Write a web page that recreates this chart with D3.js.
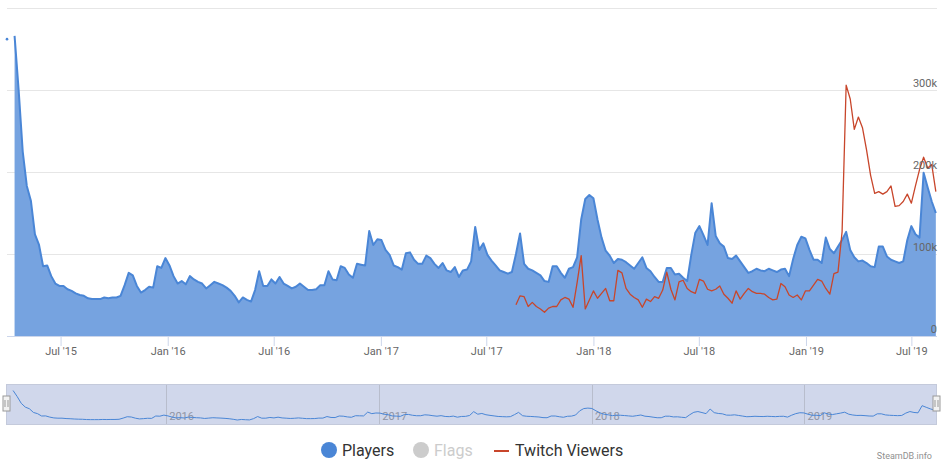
<!DOCTYPE html>
<html>
<head>
<meta charset="utf-8">
<script src="https://cdn.jsdelivr.net/npm/d3@7"></script>
<style>
  body { margin: 0; background: #fff; }
  svg { display: block; font-family: Roboto, "Open Sans", sans-serif; }
</style>
</head>
<body>
<svg id="chart" width="945" height="467"></svg>
<script>
// weekly player counts (thousands), first week below
var firstWeek = "2015-04-13"
var players = [
  366, 300, 225, 183, 165, 124, 111, 85, 86, 73,
  64, 61, 61, 57, 55, 52, 50, 49, 46, 45,
  45, 45, 47, 46, 47, 47, 49, 62, 77, 74,
  61, 53, 56, 60, 59, 85, 83, 95, 86, 73,
  64, 67, 63, 73, 69, 66, 64, 58, 62, 66,
  64, 62, 59, 55, 49, 41, 47, 44, 42, 56,
  79, 61, 61, 69, 64, 72, 64, 61, 58, 60,
  64, 60, 56, 56, 57, 62, 62, 79, 69, 68,
  85, 83, 75, 71, 88, 87, 86, 128, 111, 118,
  117, 105, 99, 86, 84, 81, 101, 102, 93, 88,
  88, 98, 95, 88, 83, 89, 80, 78, 84, 72,
  80, 81, 91, 133, 105, 113, 99, 92, 86, 80,
  78, 76, 78, 100, 125, 88, 82, 80, 77, 74,
  67, 66, 85, 85, 77, 71, 82, 84, 96, 142,
  167, 172, 168, 142, 120, 104, 98, 89, 94, 93,
  90, 86, 82, 89, 96, 83, 79, 72, 66, 66,
  83, 83, 75, 76, 71, 67, 99, 126, 134, 123,
  111, 162, 122, 113, 109, 95, 94, 98, 91, 84,
  77, 79, 82, 80, 79, 82, 80, 78, 81, 82,
  73, 94, 111, 121, 119, 105, 93, 93, 89, 120,
  106, 101, 109, 117, 127, 105, 96, 91, 92, 89,
  85, 84, 109, 109, 97, 93, 91, 89, 91, 117,
  134, 124, 120, 199, 181, 164, 150
]

// isolated launch-day point before the weekly series
var launchDay = "2015-03-31"
var launchPlayers = 362

// weekly twitch viewers (thousands)
var twitchFirstWeek = "2017-08-21"
var twitch = [
  38, 49, 48, 36, 41, 36, 33, 29, 34, 36,
  36, 44, 47, 45, 35, 65, 98, 33, 44, 55,
  46, 52, 58, 43, 43, 80, 77, 58, 51, 47,
  44, 35, 45, 42, 48, 46, 56, 78, 57, 44,
  66, 68, 58, 54, 52, 69, 67, 57, 55, 57,
  61, 51, 46, 40, 55, 45, 52, 58, 54, 52,
  52, 51, 47, 44, 45, 64, 60, 50, 47, 50,
  44, 55, 55, 62, 69, 67, 58, 51, 76, 78,
  127, 306, 289, 252, 267, 254, 227, 196, 174, 176,
  173, 176, 183, 158, 159, 164, 173, 162, 183, 203,
  218, 205, 209, 176
]

var gridValues = [0, 100, 200, 300, 400]
var labelValues = [0, 100, 200, 300]
var seriesNames = ["Players", "Flags", "Twitch Viewers"]
var seriesColors = ["#4a86d6", "#cccccc", "#c8462b"]

var parse = d3.timeParse("%Y-%m-%d")
var svg = d3.select("#chart")

function weekly(startStr, arr) {
  var start = parse(startStr)
  return arr.map(function (v, i) { return { date: d3.timeDay.offset(start, 7 * i), value: v } })
}
var playerData = weekly(firstWeek, players)
var twitchData = weekly(twitchFirstWeek, twitch)

var x = d3.scaleTime()
  .domain([parse("2015-03-31"), parse("2019-08-14")])
  .range([7, 937])
var y = d3.scaleLinear().domain([0, 400]).range([336, 8])

// grid
svg.selectAll(".grid").data(gridValues).enter()
  .append("line")
  .attr("x1", 7).attr("x2", 937)
  .attr("y1", function (d) { return y(d) + 0.5 })
  .attr("y2", function (d) { return y(d) + 0.5 })
  .attr("stroke", "#e6e6e6")

// players area
var area = d3.area()
  .x(function (d) { return x(d.date) })
  .y0(y(0))
  .y1(function (d) { return y(d.value) })
svg.append("path").datum(playerData)
  .attr("d", area)
  .attr("fill", "#76a3e0")

var line = d3.line()
  .x(function (d) { return x(d.date) })
  .y(function (d) { return y(d.value) })
svg.append("path").datum(playerData)
  .attr("d", line)
  .attr("fill", "none")
  .attr("stroke", seriesColors[0])
  .attr("stroke-width", 2)
  .attr("stroke-linejoin", "round")

svg.append("circle")
  .attr("cx", x(parse(launchDay)))
  .attr("cy", y(launchPlayers))
  .attr("r", 1.3)
  .attr("fill", seriesColors[0])

// twitch
svg.append("path").datum(twitchData)
  .attr("d", line)
  .attr("fill", "none")
  .attr("stroke", seriesColors[2])
  .attr("stroke-width", 1.3)
  .attr("stroke-linejoin", "round")

// y labels on the right
svg.selectAll(".ylab").data(labelValues).enter()
  .append("text")
  .attr("x", 937)
  .attr("y", function (d) { return y(d) - 3 })
  .attr("text-anchor", "end")
  .attr("font-size", 11)
  .attr("fill", "#666")
  .text(function (d) { return d === 0 ? "0" : d + "k" })

// x axis
var fmt = d3.timeFormat("%b '%y")
var xAxis = svg.append("g")
  .attr("transform", "translate(0,336)")
  .call(d3.axisBottom(x).ticks(d3.timeMonth.every(6)).tickSize(10).tickPadding(1).tickFormat(fmt))
xAxis.select(".domain").attr("stroke", "#ccd6eb").attr("d", "M7,0.5H937")
xAxis.selectAll(".tick line").attr("stroke", "#ccd6eb")
xAxis.selectAll(".tick text")
  .attr("fill", "#666")
  .attr("font-size", 11)
  .attr("font-family", "Roboto, sans-serif")

// navigator
var navX = d3.scaleTime().domain(x.domain()).range([5.5, 935.5])
var navY = d3.scaleLinear().domain(d3.extent(players)).range([420, 390.5])
var nav = svg.append("g")
nav.append("rect")
  .attr("x", 6.5).attr("y", 384.5).attr("width", 930).attr("height", 40)
  .attr("fill", "#d0d7eb")
  .attr("stroke", "#c4cadb")

var years = d3.timeYear.range(parse("2016-01-01"), x.domain()[1])
nav.selectAll(".navgrid").data(years).enter()
  .append("line")
  .attr("x1", function (d) { return Math.round(navX(d)) + 0.5 })
  .attr("x2", function (d) { return Math.round(navX(d)) + 0.5 })
  .attr("y1", 385).attr("y2", 424)
  .attr("stroke", "#b8bdcc")
nav.selectAll(".navlab").data(years).enter()
  .append("text")
  .attr("x", function (d) { return navX(d) + 3 })
  .attr("y", 420)
  .attr("font-size", 11)
  .attr("fill", "#8f94a3")
  .text(d3.timeFormat("%Y"))

nav.append("path").datum(playerData)
  .attr("d", d3.line()
    .x(function (d) { return navX(d.date) })
    .y(function (d) { return navY(d.value) }))
  .attr("fill", "none")
  .attr("stroke", seriesColors[0])
  .attr("stroke-width", 1)

;[6.5, 936.5].forEach(function (hx) {
  var h = nav.append("g").attr("transform", "translate(" + hx + ",396)")
  h.append("rect").attr("x", -3.5).attr("y", 0).attr("width", 7).attr("height", 15)
    .attr("fill", "#f2f2f2").attr("stroke", "#999")
  h.append("path").attr("d", "M-1.5,4V11M1.5,4V11").attr("stroke", "#999")
})

// legend
var legendX = [329, 421, 494]
var legend = svg.append("g")
seriesNames.forEach(function (name, i) {
  var lx = legendX[i]
  if (i < 2) {
    legend.append("circle").attr("cx", lx).attr("cy", 450).attr("r", 8)
      .attr("fill", i === 0 ? seriesColors[0] : seriesColors[1])
    legend.append("text").attr("x", lx + 13).attr("y", 456)
      .attr("font-size", 16)
      .attr("fill", i === 0 ? "#333" : "#cccccc")
      .text(name)
  } else {
    legend.append("line").attr("x1", lx).attr("x2", lx + 15)
      .attr("y1", 451).attr("y2", 451)
      .attr("stroke", seriesColors[2]).attr("stroke-width", 2)
    legend.append("text").attr("x", lx + 21).attr("y", 456)
      .attr("font-size", 16).attr("fill", "#333")
      .text(name)
  }
})

svg.append("text")
  .attr("x", 932).attr("y", 459)
  .attr("text-anchor", "end")
  .attr("font-size", 9)
  .attr("fill", "#909090")
  .text("SteamDB.info")
</script>
</body>
</html>
